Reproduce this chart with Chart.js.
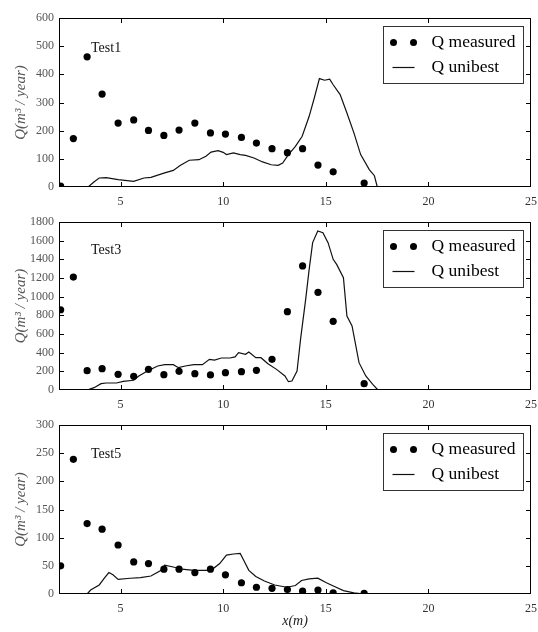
<!DOCTYPE html>
<html lang="en">
<head>
<meta charset="UTF-8">
<title>Q measured vs Q unibest</title>
<script src="https://cdn.jsdelivr.net/npm/chart.js"></script>
<style>
  body { margin: 0; background: #fff; }
  #wrap { position: relative; width: 538px; height: 632px; }
  canvas { position: absolute; left: 0; }
</style>
</head>
<body>
<div id="wrap">
  <canvas id="test1" width="538" height="210" style="top:0"></canvas>
  <canvas id="test3" width="538" height="210" style="top:210px"></canvas>
  <canvas id="test5" width="538" height="222" style="top:410px"></canvas>
</div>
<script>
  // measured points (same cross-shore positions in every test)
  const xMeasured = [2.08, 2.70, 3.37, 4.10, 4.88, 5.64, 6.36, 7.11, 7.85, 8.62, 9.38, 10.11, 10.89, 11.62, 12.38, 13.13, 13.87, 14.62, 15.36, 16.87];
  const test1Measured = [3, 172, 462, 330, 227, 238, 201, 183, 202, 227, 192, 188, 176, 156, 136, 122, 136, 78, 54, 14];
  const test3Measured = [860, 1210, 207, 229, 168, 146, 221, 164, 200, 175, 161, 186, 196, 211, 329, 839, 1329, 1046, 736, 68];
  const test5Measured = [50, 239, 125, 115, 87, 57, 54, 44, 44, 38, 44, 34, 20, 12, 10, 8, 5, 7, 2, 1];

  // unibest model lines
  const test1LineX = [2, 3.42, 3.7, 3.96, 4.3, 4.88, 5.64, 6.14, 6.48, 7.15, 7.57, 7.9, 8.35, 8.82, 9.16, 9.41, 9.75, 10.0, 10.16, 10.5, 10.83, 11.09, 11.5, 11.92, 12.34, 12.68, 12.9, 13.18, 13.52, 13.85, 14.19, 14.44, 14.69, 14.94, 15.19, 15.36, 15.7, 16.03, 16.37, 16.7, 17.12, 17.37, 17.51, 22];
  const test1LineY = [0, 0, 18, 32, 33, 26, 20, 32, 34, 50, 59, 76, 95, 97, 109, 124, 129, 123, 115, 121, 115, 112, 103, 89, 79, 77, 85, 115, 144, 180, 251, 316, 385, 379, 383, 363, 328, 263, 192, 115, 62, 40, 0, 0];

  const test3LineX = [2, 3.37, 3.71, 4.05, 4.3, 4.8, 5.13, 5.64, 5.89, 6.31, 6.81, 7.15, 7.57, 7.82, 8.15, 8.57, 8.99, 9.33, 9.58, 9.91, 10.33, 10.58, 10.75, 11.09, 11.25, 11.59, 11.84, 12.18, 12.6, 13.01, 13.18, 13.35, 13.6, 13.77, 14.02, 14.19, 14.36, 14.61, 14.86, 15.11, 15.36, 15.53, 15.86, 16.03, 16.28, 16.62, 16.95, 17.29, 17.54, 22];
  const test3LineY = [0, 0, 25, 68, 75, 75, 93, 104, 150, 204, 257, 271, 271, 239, 257, 271, 271, 329, 321, 343, 343, 354, 400, 382, 407, 346, 346, 282, 221, 150, 89, 96, 204, 543, 971, 1293, 1579, 1704, 1686, 1579, 1400, 1346, 1204, 793, 686, 293, 150, 61, 0, 0];

  const test5LineX = [2, 3.37, 3.54, 3.96, 4.21, 4.43, 4.63, 4.88, 5.47, 5.97, 6.48, 6.98, 7.15, 7.57, 7.98, 8.57, 8.99, 9.41, 9.83, 10.16, 10.5, 10.83, 11.0, 11.25, 11.59, 12.01, 12.51, 13.1, 13.52, 13.82, 14.19, 14.61, 15.03, 15.45, 15.86, 16.37, 16.87, 22];
  const test5LineY = [0, 0, 7, 16, 28, 38, 34, 26, 28, 29, 32, 42, 51, 48, 44, 42, 42, 42, 54, 69, 71, 72, 60, 42, 31, 23, 16, 12, 15, 24, 27, 28, 20, 13, 6, 2, 0, 0];

  const xTicks = [5, 10, 15, 20, 25];
  const test1Ticks = [0, 100, 200, 300, 400, 500, 600];
  const test3Ticks = [0, 200, 400, 600, 800, 1000, 1200, 1400, 1600, 1800];
  const test5Ticks = [0, 50, 100, 150, 200, 250, 300];

  const serif = "'Liberation Serif', 'DejaVu Serif', serif";

  const toPoints = (xs, ys) => xs.map((x, i) => ({ x: x, y: ys[i] }));

  // matplotlib-like frame, inward ticks, boxed legend and panel label
  const framePlugin = {
    id: 'frame',
    afterDatasetsDraw(chart, args, opts) {
      const { ctx, chartArea: a, scales } = chart;
      const L = Math.round(a.left), R = Math.round(a.right);
      const T = Math.round(a.top), B = Math.round(a.bottom);
      ctx.save();
      ctx.fillStyle = '#000';
      // box
      ctx.fillRect(L, T, R - L, 1);
      ctx.fillRect(L, B - 1, R - L, 1);
      ctx.fillRect(L, T, 1, B - T);
      ctx.fillRect(R - 1, T, 1, B - T);
      // inward ticks on all four sides
      xTicks.forEach(v => {
        const px = Math.round(scales.x.getPixelForValue(v));
        const xx = Math.min(px, R - 1);
        ctx.fillRect(xx, B - 5, 1, 5);
        ctx.fillRect(xx, T, 1, 5);
      });
      opts.yTicks.forEach(v => {
        const py = Math.min(Math.round(scales.y.getPixelForValue(v)), B - 1);
        ctx.fillRect(L, py, 5, 1);
        ctx.fillRect(R - 5, py, 5, 1);
      });

      // panel label
      ctx.fillStyle = '#111';
      ctx.font = '14px ' + serif;
      ctx.textBaseline = 'middle';
      ctx.fillText(opts.label, a.left + 32, a.top + opts.labelDy);

      // legend
      const bw = 140, bh = 57;
      const bx = Math.round(a.right - 8 - bw) + 0.5, by = Math.round(a.top + 8) + 0.5;
      ctx.fillStyle = '#fff';
      ctx.fillRect(bx, by, bw, bh);
      ctx.strokeStyle = '#333';
      ctx.lineWidth = 1;
      ctx.strokeRect(bx, by, bw, bh);
      const r1 = by + 16, r2 = by + 41;
      ctx.fillStyle = '#000';
      [bx + 10, bx + 30].forEach(cx => {
        ctx.beginPath(); ctx.arc(cx, r1, 3.5, 0, Math.PI * 2); ctx.fill();
      });
      ctx.beginPath();
      ctx.strokeStyle = '#111';
      ctx.lineWidth = 1.2;
      ctx.moveTo(bx + 9, r2); ctx.lineTo(bx + 31, r2);
      ctx.stroke();
      ctx.font = '17.5px ' + serif;
      ctx.fillText('Q measured', bx + 48, r1);
      ctx.fillText('Q unibest', bx + 48, r2);
      ctx.restore();
    }
  };

  function makeChart(id, cfg) {
    return new Chart(document.getElementById(id), {
      type: 'scatter',
      data: {
        datasets: [{
          label: 'Q measured',
          data: toPoints(xMeasured, cfg.measured),
          showLine: false,
          pointRadius: 3.6,
          pointHoverRadius: 3.6,
          pointBackgroundColor: '#000',
          pointBorderWidth: 0,
          clip: 0
        }, {
          label: 'Q unibest',
          data: toPoints(cfg.lineX, cfg.lineY),
          showLine: true,
          borderColor: '#111',
          borderWidth: 1.2,
          pointRadius: 0,
          tension: 0,
          clip: 0
        }]
      },
      options: {
        responsive: false,
        animation: false,
        devicePixelRatio: 1,
        layout: { padding: { top: cfg.padTop, left: 0, right: 7, bottom: 0 } },
        plugins: {
          legend: { display: false },
          tooltip: { enabled: false },
          frame: { yTicks: cfg.yTicks, label: cfg.label, labelDy: cfg.labelDy }
        },
        scales: {
          x: {
            type: 'linear',
            min: 2, max: 25,
            grid: { display: false, drawTicks: false },
            border: { display: false },
            afterBuildTicks: s => { s.ticks = xTicks.map(v => ({ value: v })); },
            afterFit: s => { s.height = cfg.xHeight; s.paddingLeft = 0; s.paddingRight = 0; },
            ticks: { color: '#333', padding: 8, font: { family: serif, size: 12 } },
            title: {
              display: !!cfg.xTitle,
              text: cfg.xTitle || '',
              color: '#222',
              padding: { top: 0, bottom: 2 },
              font: { family: serif, size: 14, style: 'italic' }
            }
          },
          y: {
            type: 'linear',
            min: 0, max: cfg.yTicks[cfg.yTicks.length - 1],
            grid: { display: false, drawTicks: false },
            border: { display: false },
            afterBuildTicks: s => { s.ticks = cfg.yTicks.map(v => ({ value: v })); },
            afterFit: s => { s.width = 59; s.paddingTop = 0; s.paddingBottom = 0; },
            ticks: { color: '#555', padding: 5, font: { family: serif, size: 12 }, callback: v => String(v) },
            title: {
              display: true,
              text: 'Q(m³ / year)',
              color: '#555',
              padding: { top: 12, bottom: 0 },
              font: { family: serif, size: 15, style: 'italic', lineHeight: 1.2 }
            }
          }
        }
      },
      plugins: [framePlugin]
    });
  }

  makeChart('test1', { measured: test1Measured, lineX: test1LineX, lineY: test1LineY, yTicks: test1Ticks,
    label: 'Test1', labelDy: 30, padTop: 18, xHeight: 23 });
  makeChart('test3', { measured: test3Measured, lineX: test3LineX, lineY: test3LineY, yTicks: test3Ticks,
    label: 'Test3', labelDy: 28, padTop: 12, xHeight: 30 });
  makeChart('test5', { measured: test5Measured, lineX: test5LineX, lineY: test5LineY, yTicks: test5Ticks,
    label: 'Test5', labelDy: 29, padTop: 15, xHeight: 38, xTitle: 'x(m)' });
</script>
</body>
</html>
